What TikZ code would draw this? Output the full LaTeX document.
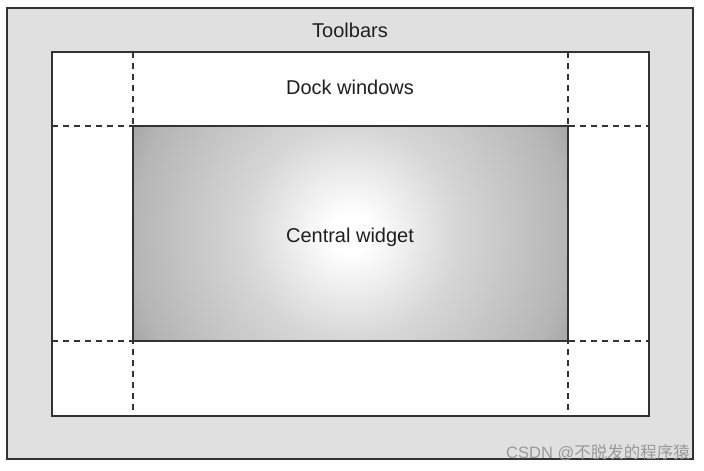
\documentclass[tikz,border=0pt]{standalone}
\usepackage{fontspec}
\setmainfont{Liberation Sans}
\newfontfamily\cjk{Noto Sans CJK SC}
\pgfdeclareradialshading{cwshade}{\pgfpoint{0bp}{0bp}}{color(0bp)=(white); color(2bp)=(white); color(11bp)=(black!16); color(22.4bp)=(black!29); color(25bp)=(black!35); color(50bp)=(black!35)}
\begin{document}
\begin{tikzpicture}[x=1pt,y=-1pt,
  frame/.style={draw=black!80,line width=1.6pt},
  dashline/.style={draw=black!80,line width=1.6pt,dash pattern=on 6pt off 5pt},
  lbl/.style={font=\fontsize{20}{23}\selectfont,text=black!88,inner sep=0pt}]
\useasboundingbox (0,0) rectangle (704,471);
\fill[white] (0,0) rectangle (704,471);
% outer toolbar band
\path[frame,fill=black!12] (7,8) rectangle (693,459);
% inner white area
\path[frame,fill=white] (52,52) rectangle (649,416);
% dashed dividers
\coordinate (vl1) at (133,52); \coordinate (vl2) at (133,416);
\coordinate (vr1) at (568,52); \coordinate (vr2) at (568,416);
\coordinate (ht1) at (52,126); \coordinate (ht2) at (649,126);
\coordinate (hb1) at (52,341); \coordinate (hb2) at (649,341);
\draw[dashline] (vl1) -- (vl2);
\draw[dashline] (vr1) -- (vr2);
\draw[dashline] (ht1) -- (ht2);
\draw[dashline] (hb1) -- (hb2);
% central widget
\begin{scope}
\clip (133,126) rectangle (568,341);
\shade[shading=cwshade] (350.5,233.5) circle (243);
\end{scope}
\draw[frame] (133,126) rectangle (568,341);
% labels
\node[lbl] (tb) at (350,30) {Toolbars};
\node[lbl] (dw) at (350,87) {Dock windows};
\node[lbl] (cw) at (350,237) {Central widget};
\node[font=\fontsize{16.5}{19}\selectfont,text=black!40,anchor=east,inner sep=0pt] (wm) at (690,453) {CSDN @{\cjk 不脱发的程序猿}};
\end{tikzpicture}
\end{document}
